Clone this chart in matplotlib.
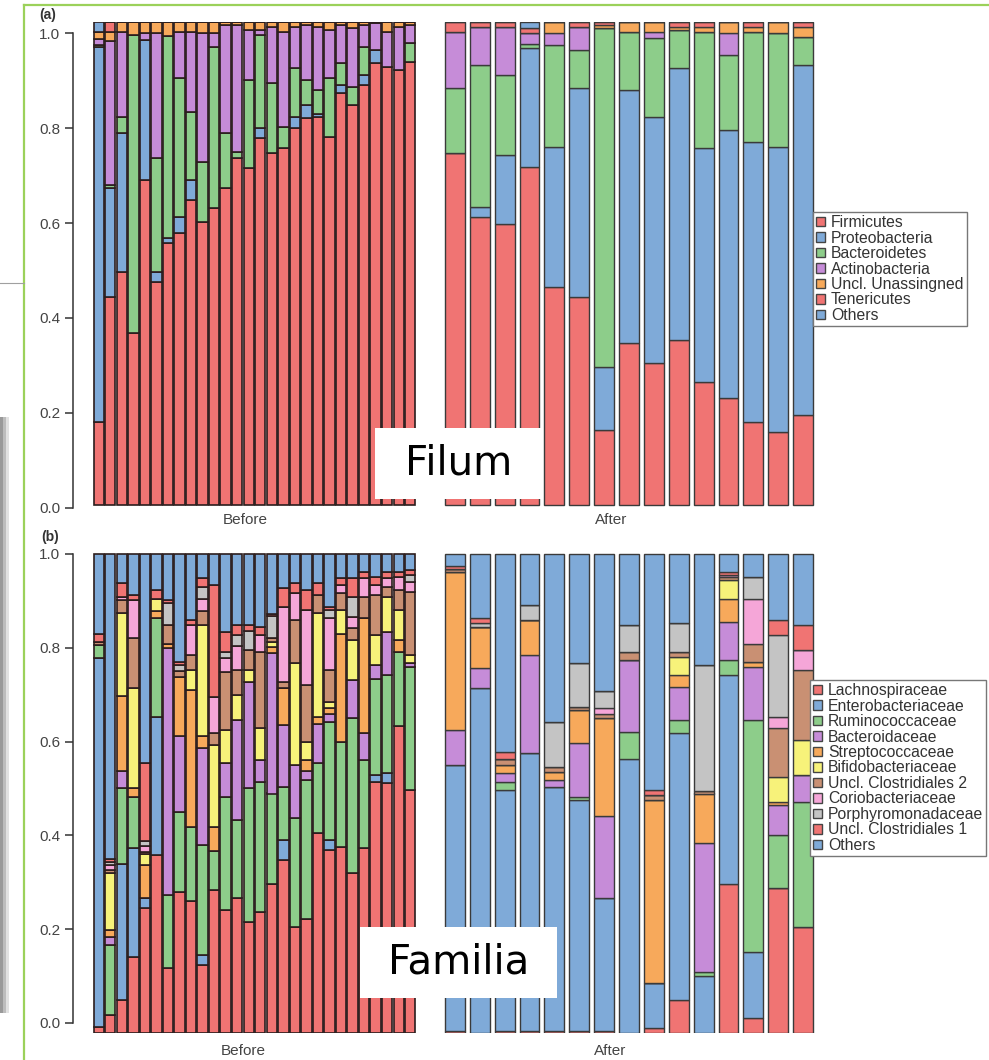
import numpy as np
import matplotlib
matplotlib.use('Agg')
import matplotlib.pyplot as plt
from matplotlib.patches import Patch, Rectangle
from matplotlib.lines import Line2D

plt.rcParams['font.family'] = ['Liberation Sans', 'DejaVu Sans']

# ---------------- data: (a) phylum, relative abundance per sample ----------------
phylum_names = ['Firmicutes', 'Proteobacteria', 'Bacteroidetes', 'Actinobacteria',
                'Uncl. Unassingned', 'Tenericutes', 'Others']

before_firmicutes = [.172, .431, .482, .356, .673, .462, .542, .563, .631, .586, .615, .656, .718, .698,
                     .760, .729, .739, .780, .801, .803, .762, .853, .828, .870, .915, .907, .901, .917]
before_proteo = [.776, .225, .288, 0, .290, .020, .010, .033, .042, 0, 0, 0, 0, 0,
                 .020, 0, 0, .023, .027, .007, 0, .017, 0, .020, .027, 0, 0, 0]
before_bactero = [.004, .006, .033, .617, 0, .236, .420, .288, .141, .124, .333, .114, .012, .182,
                  .193, .145, .044, .102, .052, .049, .122, .045, .037, .058, 0, 0, 0, .040]
before_actino = [.012, .298, .176, 0, .015, .259, 0, .095, .165, .267, .029, .224, .264, .103,
                 .010, .116, .197, .085, .114, .131, .099, .079, .122, .046, .055, .073, .089, .037]
before_uncl = [.016, .020, .021, .027, .022, .023, .028, .021, .021, .023, .023, .006, .006, .017,
               .017, .010, .020, .010, .006, .010, .017, .006, .013, .006, .003, .020, .010, .006]
before_teneri = [0, .020, 0, 0, 0, 0, 0, 0, 0, 0, 0, 0, 0, 0,
                 0, 0, 0, 0, 0, 0, 0, 0, 0, 0, 0, 0, 0, 0]
before_others = [.020, 0, 0, 0, 0, 0, 0, 0, 0, 0, 0, 0, 0, 0,
                 0, 0, 0, 0, 0, 0, 0, 0, 0, 0, 0, 0, 0, 0]

after_firmicutes = [.729, .596, .582, .700, .451, .431, .155, .335, .294, .342, .255, .222, .172, .151, .186]
after_proteo = [0, .021, .143, .246, .290, .432, .131, .524, .509, .563, .484, .554, .580, .590, .725]
after_bactero = [.134, .294, .165, .009, .211, .079, .702, .120, .164, .078, .240, .156, .227, .236, .058]
after_actino = [.116, .079, .100, .022, .025, .048, 0, 0, .013, 0, 0, .045, 0, 0, 0]
after_uncl = [0, 0, 0, 0, .023, 0, .006, .021, .020, .007, .011, .023, .011, .023, .021]
after_teneri = [.021, .010, .010, .010, 0, .010, .006, 0, 0, .010, .010, 0, .010, 0, .010]
after_others = [0, 0, 0, .013, 0, 0, 0, 0, 0, 0, 0, 0, 0, 0, 0]

# ---------------- data: (b) family ----------------
family_names = ['Lachnospiraceae', 'Enterobacteriaceae', 'Ruminococcaceae', 'Bacteroidaceae',
                'Streptococcaceae', 'Bifidobacteriaceae', 'Uncl. Clostridiales 2',
                'Coriobacteriaceae', 'Porphyromonadaceae', 'Uncl. Clostridiales 1', 'Others']

fb_lachno = [.013, .038, .069, .159, .260, .372, .135, .295, .276, .142, .299, .257, .281, .232,
             .253, .312, .361, .222, .239, .417, .382, .389, .333, .386, .525, .521, .640, .507]
fb_entero = [.769, 0, .283, .227, .021, .288, 0, 0, 0, .021, 0, 0, 0, 0,
             0, 0, .042, 0, 0, 0, .021, 0, 0, 0, .014, .021, 0, 0]
fb_rumino = [.028, .146, .160, .107, 0, .206, .153, .167, .155, .229, .080, .236, .164, .279,
             .272, .188, .111, .226, .289, .146, .247, .219, .324, .184, .201, .205, .156, .258]
fb_bactero = [0, .017, .034, 0, 0, 0, .515, .157, 0, .202, 0, .070, .208, .222,
              .045, .293, .129, .112, .018, .083, .017, 0, .080, .056, .028, .091, 0, .007]
fb_strepto = [0, .014, .158, .018, .070, .014, .010, .125, .285, .025, .052, 0, 0, 0,
              0, .012, .077, 0, .024, .014, .012, .226, 0, .240, 0, 0, .024, 0]
fb_bifido = [0, .118, .172, .210, .022, .027, 0, 0, .042, .233, .170, .070, .053, .025,
             .066, .012, 0, .212, .038, .216, .012, .049, .083, 0, .063, .073, .063, .017]
fb_uc2 = [.006, .008, .028, .104, .005, 0, .039, .012, .031, .028, .025, .121, .052, .042,
          .160, .008, .013, .090, .119, .038, .067, .035, .025, .045, .083, .020, .042, .132]
fb_corio = [0, .010, .007, .079, .012, 0, 0, 0, .063, .027, .076, .028, .049, 0,
            .035, 0, .157, .056, .156, 0, .108, .017, .024, .038, .021, .018, .028, .021]
fb_porphy = [0, .007, 0, 0, .010, 0, .045, .012, 0, .025, 0, .014, .024, .040,
             0, .045, 0, 0, 0, 0, .017, 0, .042, 0, 0, 0, 0, .014]
fb_uc1 = [.018, .005, .028, .010, .163, .018, .006, .007, .010, .017, .233, .042, .021, .012,
          .017, .005, .038, .021, .042, .025, .007, .014, .038, .014, .018, .014, .010, .011]
fb_others = [.166, .637, .061, .086, .437, .075, .097, .225, .138, .051, .065, .162, .148, .148,
             .152, .125, .072, .061, .075, .061, .110, .051, .051, .037, .047, .037, .037, .033]

fa_lachno = [.005, 0, .005, .005, .005, .005, .005, 0, .010, .069, 0, .312, .031, .302, .222]
fa_entero = [.554, .720, .502, .579, .509, .481, .276, .573, .094, .557, .118, .435, .139, 0, 0]
fa_rumino = [0, 0, .018, 0, 0, .007, 0, .056, 0, .027, .010, .032, .483, .111, .261]
fa_bactero = [.074, .041, .017, .205, .014, .112, .171, .150, 0, .070, .268, .080, .112, .063, .056]
fa_strepto = [.330, .087, .017, .073, .016, .069, .205, 0, .382, .024, .104, .048, .010, .007, 0]
fa_bifido = [0, 0, 0, 0, 0, 0, 0, 0, 0, .039, 0, .039, 0, .052, .073]
fa_uc2 = [.005, 0, .014, 0, .012, .007, .010, .017, .010, .010, .006, .007, .038, .101, .146]
fa_corio = [0, 0, 0, 0, 0, 0, .011, 0, 0, 0, 0, .003, .094, .024, .042]
fa_porphy = [0, .008, 0, .032, .094, .091, .035, .056, 0, .059, .262, 0, .046, .171, 0]
fa_uc1 = [.006, .010, .014, 0, 0, 0, 0, 0, .011, 0, 0, .007, 0, .031, .052]
fa_others = [.026, .134, .413, .106, .350, .228, .287, .148, .493, .145, .232, .037, .047, .138, .148]

# ---------------- colours ----------------
RED, BLUE, GREEN, PURPLE = '#F07473', '#7FAAD8', '#8DCD8A', '#C68CD8'
ORANGE, YELLOW, BROWN, PINK, GRAY = '#F7A95B', '#F7F27A', '#C99073', '#F5A6D8', '#C4C4C4'
phylum_colors = [RED, BLUE, GREEN, PURPLE, ORANGE, RED, BLUE]
family_colors = [RED, BLUE, GREEN, PURPLE, ORANGE, YELLOW, BROWN, PINK, GRAY, RED, BLUE]

W, H = 989, 1060
fig = plt.figure(figsize=(W / 100, H / 100), dpi=100)


def add_px_axes(left, right, y0pix, y1pix, ylim):
    # y0pix / y1pix: pixel rows of data value 0 and 1
    per = y0pix - y1pix
    top = y1pix - (ylim[1] - 1) * per
    bottom = y0pix + (0 - ylim[0]) * per
    ax = fig.add_axes([left / W, 1 - bottom / H, (right - left) / W, (bottom - top) / H])
    ax.set_ylim(*ylim)
    return ax


def stack(ax, series, colors, width, edge, lw):
    x = np.arange(len(series[0]))
    bottom = np.zeros(len(x))
    for vals, c in zip(series, colors):
        vals = np.asarray(vals, dtype=float)
        ax.bar(x, vals, width, bottom=bottom, color=c, edgecolor=edge, linewidth=lw)
        bottom += vals
    ax.set_xlim(-0.5, len(x) - 0.5)


def style(ax, ticks=None):
    for s in ['top', 'right', 'bottom', 'left']:
        ax.spines[s].set_visible(False)
    ax.set_xticks([])
    if ticks is None:
        ax.set_yticks([])
        return
    ax.spines['left'].set_visible(True)
    ax.spines['left'].set_position(('outward', 14.5))
    ax.spines['left'].set_bounds(ticks[0], ticks[-1])
    ax.spines['left'].set_color('#333333')
    ax.spines['left'].set_linewidth(1.1)
    ax.set_yticks(ticks)
    ax.set_yticklabels(['0.0', '0.2', '0.4', '0.6', '0.8', '1.0'])
    ax.tick_params(axis='y', length=6, width=1.1, color='#333333', labelcolor='#444444',
                   labelsize=11, pad=3)
    ax.patch.set_alpha(0)


top_ticks = np.linspace(-0.006, 0.977, 6)
bot_ticks = np.linspace(0.021, 1.0, 6)

# (a) before
ax1 = add_px_axes(93, 416, 505, 22, (-0.008, 1.0))
stack(ax1, [before_firmicutes, before_proteo, before_bactero, before_actino,
            before_uncl, before_teneri, before_others],
      phylum_colors, 0.9, '#2b1d1d', 1.2)
style(ax1, top_ticks)

# (a) after
ax2 = add_px_axes(442.5, 815.5, 505, 22, (-0.008, 1.0))
stack(ax2, [after_firmicutes, after_proteo, after_bactero, after_actino,
            after_uncl, after_teneri, after_others],
      phylum_colors, 0.8, '#3a3a3a', 1.0)
style(ax2)

# (b) before
ax3 = add_px_axes(93, 416, 1033, 554, (0, 1.005))
stack(ax3, [fb_lachno, fb_entero, fb_rumino, fb_bactero, fb_strepto, fb_bifido,
            fb_uc2, fb_corio, fb_porphy, fb_uc1, fb_others],
      family_colors, 0.9, '#2b1d1d', 1.2)
style(ax3, bot_ticks)

# (b) after
ax4 = add_px_axes(442.5, 815.5, 1033, 554, (0, 1.005))
stack(ax4, [fa_lachno, fa_entero, fa_rumino, fa_bactero, fa_strepto, fa_bifido,
            fa_uc2, fa_corio, fa_porphy, fa_uc1, fa_others],
      family_colors, 0.8, '#3a3a3a', 1.0)
style(ax4)

# group labels and panel letters
for x, y, t in [(245, 520, 'Before'), (611, 520, 'After'), (243, 1051, 'Before'), (610, 1051, 'After')]:
    fig.text(x / W, 1 - y / H, t, ha='center', va='center', fontsize=11, color='#444444')
fig.text(48 / W, 1 - 15 / H, '(a)', ha='center', va='center', fontsize=10, fontweight='bold', color='#333333')
fig.text(50 / W, 1 - 537 / H, '(b)', ha='center', va='center', fontsize=10, fontweight='bold', color='#333333')

# legends
def legend(names, colors, x, y):
    handles = [Patch(facecolor=c, edgecolor='#444444', linewidth=1.0) for c in colors]
    leg = fig.legend(handles, names, loc='upper left', bbox_to_anchor=(x / W, 1 - y / H),
                     fontsize=11.3, frameon=True, fancybox=False, framealpha=1,
                     edgecolor='#777777', handlelength=0.55, handleheight=0.55,
                     handletextpad=0.4, labelspacing=0.03, borderpad=0.2, borderaxespad=0)
    leg.get_frame().set_linewidth(1.0)
    for t in leg.get_texts():
        t.set_color('#333333')
    return leg

legend(phylum_names, phylum_colors, 813, 212)
legend(family_names, family_colors, 810, 680)

# white boxes with large titles
for (l, t, r, b, label) in [(375, 428, 543, 499, 'Filum'), (360, 927, 557, 998, 'Familia')]:
    fig.add_artist(Rectangle((l / W, 1 - b / H), (r - l) / W, (b - t) / H,
                             transform=fig.transFigure, facecolor='white', edgecolor='none', zorder=5))
    fig.text((l + r) / 2 / W, 1 - (t + b) / 2 / H, label, ha='center', va='center',
             fontsize=29, family='DejaVu Sans', color='black', zorder=6)

# slide decorations: green frame, grey rule and shaded strip on the left
fig.add_artist(Line2D([24 / W, 1], [1 - 5 / H, 1 - 5 / H], transform=fig.transFigure,
                      color='#9BD15A', linewidth=1.6))
fig.add_artist(Line2D([24 / W, 24 / W], [1 - 5 / H, 0], transform=fig.transFigure,
                      color='#9BD15A', linewidth=1.6))
fig.add_artist(Line2D([0, 24 / W], [1 - 283 / H, 1 - 283 / H], transform=fig.transFigure,
                      color='#A0A0A0', linewidth=0.8))
for x0, shade in [(0, '#9a9a9a'), (3, '#bdbdbd'), (6, '#e2e2e2')]:
    fig.add_artist(Rectangle((x0 / W, 1 - 1013 / H), 3 / W, (1013 - 417) / H,
                             transform=fig.transFigure, facecolor=shade, edgecolor='none'))

fig.savefig('out.png', dpi=100)
